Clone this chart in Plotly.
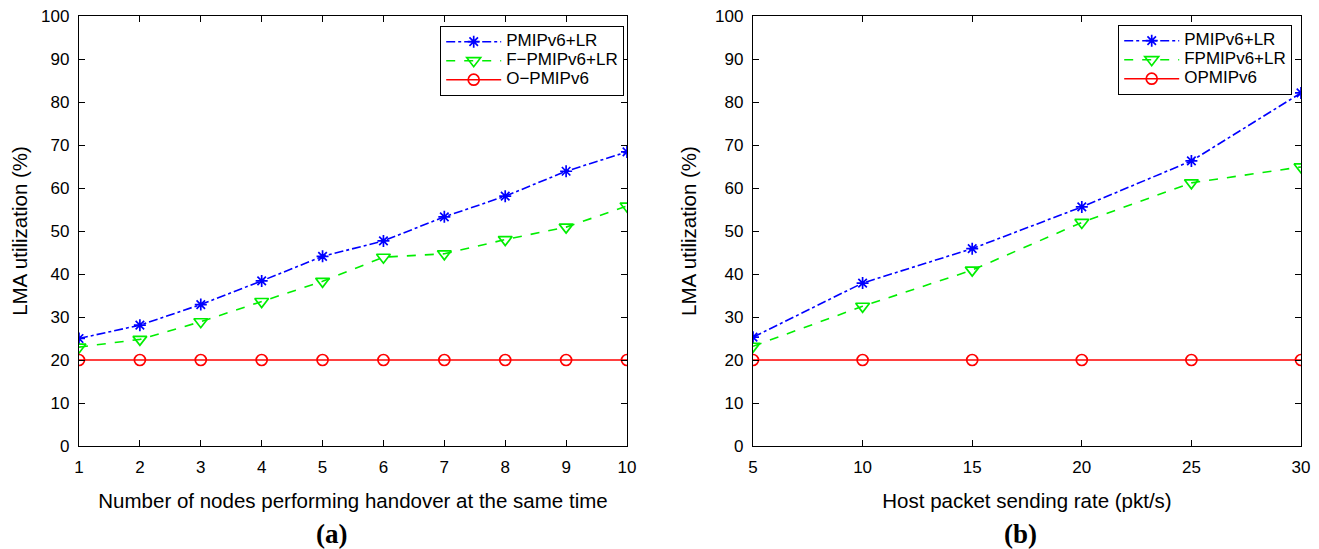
"""LMA utilization comparison charts (a) and (b)"""
import plotly.graph_objects as go

# panel (a): nodes performing handover at the same time
nodes = [1, 2, 3, 4, 5, 6, 7, 8, 9, 10]
a_pmip_lr = [25.0, 28.1, 32.9, 38.4, 44.1, 47.7, 53.3, 58.1, 63.9, 68.4]
a_fpmip_lr = [23.0, 24.8, 28.9, 33.6, 38.3, 43.9, 44.7, 48.0, 50.9, 55.8]
a_opmip = [20, 20, 20, 20, 20, 20, 20, 20, 20, 20]

# panel (b): host packet sending rate
rates = [5, 10, 15, 20, 25, 30]
b_pmip_lr = [25.3, 37.9, 45.9, 55.6, 66.3, 82.1]
b_fpmip_lr = [23.2, 32.5, 40.9, 52.0, 61.2, 64.9]
b_opmip = [20, 20, 20, 20, 20, 20]

names_a = ['PMIPv6+LR', 'F\u2212PMIPv6+LR', 'O\u2212PMIPv6']
names_b = ['PMIPv6+LR', 'FPMIPv6+LR', 'OPMIPv6']
y_ticks = [0, 10, 20, 30, 40, 50, 60, 70, 80, 90, 100]

FONT = 'Liberation Sans, Arial, sans-serif'
STYLES = [
    dict(color='#0000ff', dash='dashdot', symbol='asterisk-open', size=10),
    dict(color='#00ee00', dash='dash', symbol='triangle-down-open', size=12),
    dict(color='#ff0000', dash='solid', symbol='circle-open', size=11),
]

# the page body keeps an 8px margin, so lay out in page pixels minus that
OFF = 8
W, H = 1319 - OFF, 549 - OFF


def px(x):
    return (x - OFF) / W


def py(y):
    return 1 - (y - OFF) / H


fig = go.Figure()


def add_series(x, series, names, xaxis, yaxis, legend):
    for ys, name, st in zip(series, names, STYLES):
        fig.add_trace(go.Scatter(
            x=x, y=ys, mode='lines+markers',
            name='<span style="font-size:17px">%s</span>' % name,
            xaxis=xaxis, yaxis=yaxis, legend=legend,
            line=dict(color=st['color'], dash=st['dash'], width=1.6),
            marker=dict(symbol=st['symbol'], size=st['size'],
                        color=st['color'],
                        line=dict(color=st['color'], width=1.7)),
        ))


add_series(nodes, [a_pmip_lr, a_fpmip_lr, a_opmip], names_a, 'x', 'y', 'legend')
add_series(rates, [b_pmip_lr, b_fpmip_lr, b_opmip], names_b, 'x2', 'y2', 'legend2')

axis_common = dict(
    showline=True, linecolor='black', linewidth=1.3, mirror='ticks',
    ticks='inside', ticklen=6, tickcolor='black', showgrid=False,
    zeroline=False, automargin=False, ticklabelstandoff=5,
    ticklabeloverflow='allow',
    tickfont=dict(family=FONT, size=17, color='black'),
)
title_font = dict(family=FONT, size=20.5, color='black')
legend_common = dict(
    bgcolor='white', bordercolor='black', borderwidth=1.2,
    font=dict(family=FONT, size=12, color='black'),
    xanchor='right', yanchor='top', tracegroupgap=0, itemwidth=55,
)

fig.update_layout(
    width=W, height=H,
    margin=dict(l=0, r=0, t=0, b=0),
    paper_bgcolor='white', plot_bgcolor='white',
    xaxis=dict(domain=[px(79), px(627)], range=[1, 10], tickvals=nodes,
               title=dict(text='Number of nodes performing handover at the same time',
                          font=title_font, standoff=18),
               **axis_common),
    yaxis=dict(domain=[py(446), py(16)], range=[0, 100], tickvals=y_ticks,
               title=dict(text='LMA utilization (%)', font=title_font,
                          standoff=12),
               **axis_common),
    xaxis2=dict(domain=[px(753), px(1301)], range=[5, 30], tickvals=rates,
                anchor='y2',
                title=dict(text='Host packet sending rate (pkt/s)',
                           font=title_font, standoff=18),
                **axis_common),
    yaxis2=dict(domain=[py(446), py(16)], range=[0, 100], tickvals=y_ticks,
                anchor='x2',
                title=dict(text='LMA utilization (%)', font=title_font,
                           standoff=12),
                **axis_common),
    legend=dict(x=px(624), y=py(26), **legend_common),
    legend2=dict(x=px(1292), y=py(25), **legend_common),
    showlegend=True,
)

for label, xc in [('(a)', 331), ('(b)', 1020)]:
    fig.add_annotation(
        text='<b>%s</b>' % label, xref='paper', yref='paper',
        x=px(xc), y=py(534), xanchor='center', yanchor='middle',
        showarrow=False,
        font=dict(family='Liberation Serif, Times New Roman, serif', size=27,
                  color='black'),
    )

fig.write_html("out.html")
